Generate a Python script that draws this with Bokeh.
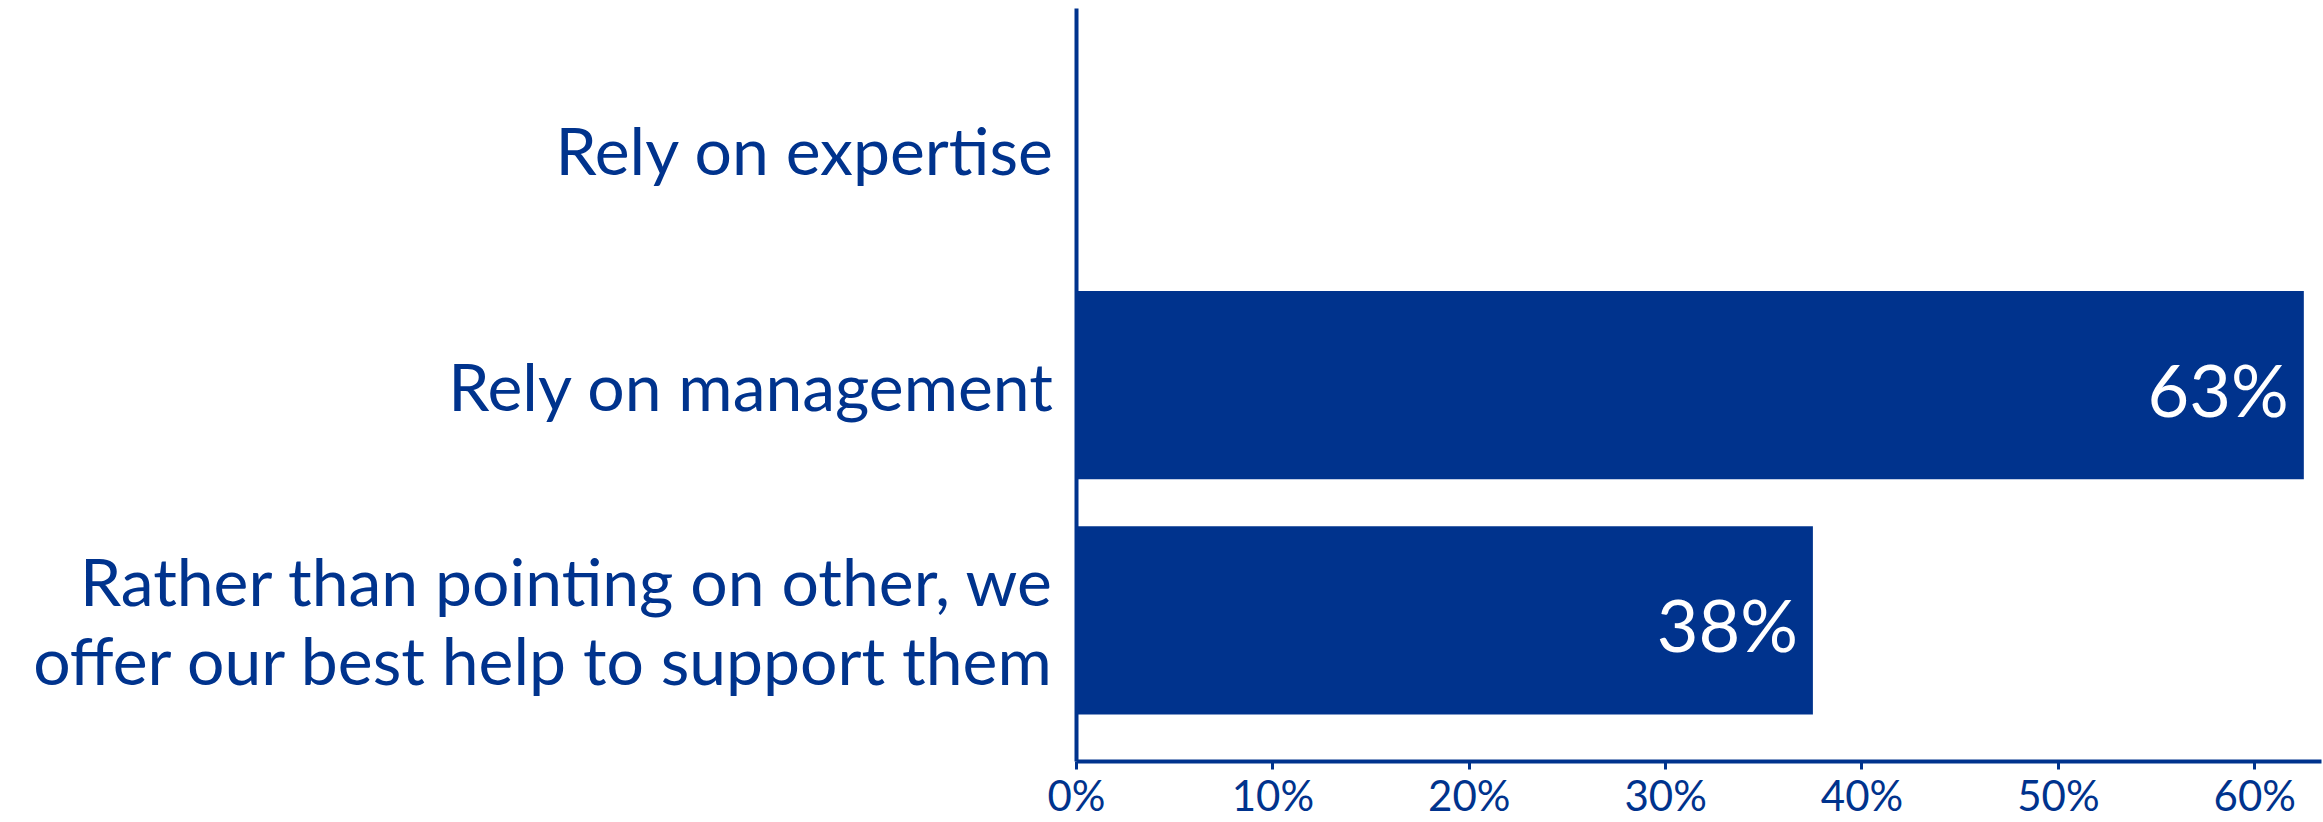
from bokeh.plotting import figure
from bokeh.models import ColumnDataSource, FixedTicker, NumeralTickFormatter, Range1d
from bokeh.core.properties import value
from bokeh.embed import file_html
from bokeh.resources import INLINE

categories = [
    "Rather than pointing on other, we\noffer our best help to support them",
    "Rely on management",
    "Rely on expertise",
]
shares = [0.375, 0.625, 0.0]
x_ticks = [0.0, 0.1, 0.2, 0.3, 0.4, 0.5, 0.6]

BLUE = "#00338D"
FONT = "Lato"

ypos = list(range(len(categories)))
labels = [f"{int(v * 100 + 0.5)}%" if v > 0 else "" for v in shares]
src = ColumnDataSource(dict(y=ypos, v=shares, lab=labels))

p = figure(
    width=2323, height=822,
    x_range=Range1d(0, 0.634), y_range=Range1d(-0.6, 2.6),
    output_backend="svg", toolbar_location=None,
    min_border_left=1076, min_border_right=2, min_border_top=8, min_border_bottom=40,
)
p.outline_line_color = None
p.xgrid.visible = False
p.ygrid.visible = False
p.background_fill_color = "white"
p.border_fill_color = "white"

p.hbar(y="y", right="v", left=0, height=0.8, source=src, fill_color=BLUE, line_color=None)
p.text(x="v", y="y", text="lab", source=src, text_align="right", text_baseline="middle",
       x_offset=-15, y_offset=4, text_color="white", text_font=value(FONT), text_font_size="72px")

# x axis
xa = p.xaxis[0]
xa.ticker = FixedTicker(ticks=x_ticks)
xa.formatter = NumeralTickFormatter(format="0%")
xa.axis_line_color = BLUE
xa.axis_line_width = 4
xa.major_tick_line_color = BLUE
xa.major_tick_line_width = 3
xa.major_tick_in = 0
xa.major_tick_out = 8
xa.minor_tick_line_color = None
xa.major_label_text_color = BLUE
xa.major_label_text_font = FONT
xa.major_label_text_font_size = "42px"
xa.major_label_standoff = 0

# y axis
ya = p.yaxis[0]
ya.ticker = FixedTicker(ticks=ypos)
ya.major_label_overrides = {i: c for i, c in zip(ypos, categories)}
ya.axis_line_color = BLUE
ya.axis_line_width = 4
ya.major_tick_line_color = None
ya.major_tick_in = 0
ya.major_tick_out = 0
ya.minor_tick_line_color = None
ya.major_label_text_color = BLUE
ya.major_label_text_font = FONT
ya.major_label_text_font_size = "66px"
ya.major_label_text_line_height = 1.0
ya.major_label_standoff = 22

open("out.html", "w").write(file_html(p, INLINE))
